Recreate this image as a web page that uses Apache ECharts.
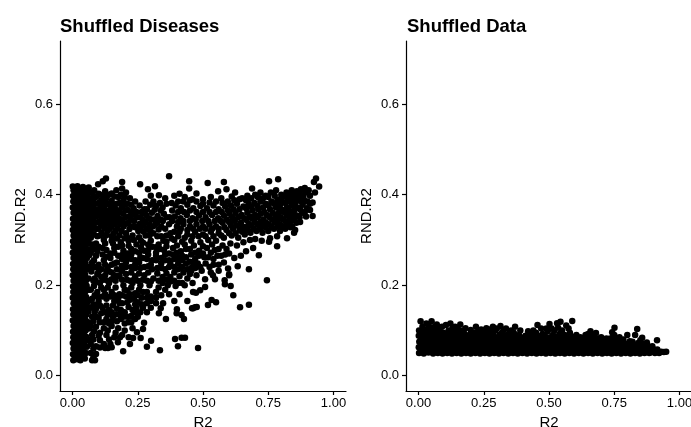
<!DOCTYPE html>
<html><head><meta charset="utf-8">
<style>html,body{margin:0;padding:0;background:#fff}#c{width:691px;height:427px}</style>
<script src="https://cdn.jsdelivr.net/npm/echarts@6/dist/echarts.min.js"></script>
</head><body><div id="c"></div>
<script>
const panelTitles = ["Shuffled Diseases", "Shuffled Data"];
const xTicks = [0, 0.25, 0.5, 0.75, 1];
const yTicks = [0, 0.2, 0.4, 0.6];

const diseaseColumn = [
[.003,.034],[.018,.036],[.03,.034],[.047,.038],[.002,.047],[.016,.05],[.033,.046],[.051,.05],[.004,.06],[.02,.058],[.036,.062],[.055,.064],
[.001,.072],[.015,.075],[.03,.071],[.048,.076],[.003,.085],[.019,.083],[.035,.088],[.052,.086],[.002,.097],[.017,.1],[.032,.096],[.05,.1],
[.004,.11],[.021,.108],[.037,.112],[.054,.11],[.001,.122],[.016,.125],[.031,.121],[.049,.124],[.003,.135],[.02,.133],[.036,.137],[.053,.135],
[.002,.147],[.018,.15],[.034,.146],[.05,.149],[.004,.16],[.016,.158],[.032,.163],[.055,.16],[.001,.172],[.019,.175],[.037,.171],[.052,.174],
[.003,.185],[.017,.183],[.033,.188],[.049,.186],[.002,.197],[.021,.2],[.036,.196],[.054,.199],[.004,.21],[.018,.208],[.031,.212],[.051,.21],
[.001,.222],[.016,.225],[.035,.221],[.048,.224],[.003,.235],[.02,.233],[.034,.237],[.053,.235],[.002,.247],[.017,.25],[.032,.246],[.05,.249],
[.004,.26],[.019,.258],[.037,.262],[.055,.26],[.001,.272],[.015,.275],[.033,.271],[.052,.274],[.003,.285],[.021,.283],[.036,.288],[.049,.286],
[.002,.297],[.018,.3],[.031,.296],[.054,.299],[.004,.31],[.016,.308],[.035,.312],[.051,.31],[.001,.322],[.02,.325],[.034,.321],[.048,.324],
[.003,.335],[.017,.333],[.032,.337],[.053,.335],[.002,.347],[.019,.35],[.037,.346],[.05,.349],[.004,.36],[.015,.358],[.033,.362],[.052,.36],
[.001,.372],[.021,.375],[.036,.371],[.055,.374],[.003,.385],[.018,.383],[.031,.387],[.049,.385],[.002,.397],[.016,.4],[.035,.396],[.054,.399],
[.004,.41],[.02,.408],[.034,.412],[.05,.41],[.001,.418],[.019,.419],[.04,.417],[.062,.416],
[.01,.041],[.026,.043],[.04,.055],[.011,.066],[.027,.065],[.044,.07],[.009,.079],[.025,.081],[.042,.08],[.06,.08],[.01,.091],[.027,.09],[.043,.093],[.011,.104],[.028,.103],[.045,.105],[.063,.104],[.009,.116],[.026,.115],[.043,.118],[.06,.118],[.012,.128],[.028,.129],[.044,.13],[.01,.141],[.027,.142],[.043,.143],[.061,.142],[.011,.153],[.025,.155],[.042,.155],[.009,.166],[.027,.167],[.044,.167],[.062,.166],[.011,.178],[.028,.18],[.043,.18],[.01,.191],[.026,.192],[.042,.192],[.063,.19],[.012,.203],[.028,.204],[.044,.205],[.01,.216],[.026,.217],[.042,.217],[.062,.215],[.011,.228],[.027,.229],[.043,.23],[.009,.241],[.026,.242],[.044,.242],[.063,.24],[.011,.254],[.027,.254],[.043,.255],[.01,.266],[.026,.267],[.045,.267],[.064,.266],[.012,.279],[.028,.279],[.043,.28],[.062,.279],[.01,.291],[.027,.292],[.043,.293],[.063,.292],[.011,.303],[.026,.304],[.044,.305],[.062,.304],[.009,.316],[.027,.316],[.043,.317],[.062,.317],[.011,.328],[.026,.329],[.042,.33],[.063,.329],[.01,.341],[.028,.341],[.045,.342],[.062,.342],[.012,.353],[.027,.354],[.043,.355],[.063,.354],[.01,.366],[.026,.366],[.044,.367],[.062,.367],[.011,.379],[.028,.379],[.042,.38],[.063,.38],[.009,.391],[.026,.392],[.044,.392],[.062,.392],[.011,.404],[.027,.404],[.043,.404],[.063,.405]
];
const diseaseBand = [
[.07,.405],[.083,.41],[.098,.423],[.116,.43],[.128,.436],[.105,.4],[.125,.408],[.15,.403],[.168,.41],[.19,.428],[.19,.414],[.205,.405],[.175,.395],[.22,.392],[.24,.385],[.259,.423],[.289,.412],[.316,.419],[.3,.398],[.331,.399],[.28,.385],[.37,.441],
[.355,.392],[.39,.398],[.41,.402],[.447,.43],[.447,.414],[.43,.395],[.475,.403],[.46,.39],[.5,.39],[.518,.426],[.53,.395],[.558,.408],[.58,.428],[.59,.412],[.57,.392],[.61,.396],[.623,.405],[.65,.392],[.67,.398],[.688,.414],[.7,.4],[.72,.405],[.74,.398],[.753,.43],[.76,.405],[.788,.434],[.78,.41],[.8,.4],[.82,.405],[.84,.41],[.86,.408],[.875,.412],[.89,.415],[.905,.41],[.933,.436],[.925,.428],[.945,.418],[.929,.405],[.91,.398],[.92,.383],[.91,.366],[.92,.353],
[.07,.39],[.09,.395],[.11,.388],[.13,.392],[.15,.386],[.17,.38],[.195,.388],[.21,.38],[.07,.376],[.088,.38],[.108,.374],[.128,.378],[.148,.372],[.168,.367],[.19,.372],[.212,.366],[.234,.37],[.257,.376],[.275,.368],[.298,.378],[.32,.375],[.345,.372],
[.07,.362],[.09,.366],[.11,.36],[.13,.364],[.15,.358],[.172,.353],[.194,.358],[.216,.352],[.238,.356],[.26,.35],[.282,.355],[.304,.36],[.326,.353],[.35,.358],[.372,.35],[.395,.376],[.415,.37],[.44,.378],[.463,.37],[.49,.375],[.515,.37],[.54,.376],[.56,.368],[.585,.374],[.607,.376],[.63,.38],[.655,.374],[.675,.38],[.697,.382],[.72,.385],[.74,.38],[.762,.385],[.785,.388],[.805,.384],[.825,.39],[.845,.392],[.865,.39],[.885,.395],[.9,.385],
[.07,.348],[.09,.352],[.11,.346],[.13,.35],[.15,.344],[.17,.34],[.192,.344],[.214,.338],[.236,.342],[.258,.336],[.28,.34],[.302,.345],[.324,.338],[.346,.342],[.37,.335],[.392,.352],[.414,.348],[.438,.355],[.46,.348],[.485,.354],[.51,.35],[.535,.355],[.558,.348],[.58,.354],[.602,.358],[.625,.36],[.648,.355],[.67,.36],[.69,.365],[.712,.368],[.735,.362],[.757,.368],[.78,.372],[.8,.368],[.822,.372],[.842,.376],[.862,.372],[.882,.378],[.898,.37],
[.07,.334],[.09,.338],[.11,.332],[.13,.336],[.15,.33],[.172,.326],[.195,.33],[.218,.324],[.24,.328],[.262,.322],[.285,.326],[.308,.33],[.33,.323],[.355,.325],[.4,.33],[.425,.335],[.45,.33],[.475,.335],[.5,.33],[.525,.335],[.55,.33],[.575,.338],[.6,.34],[.622,.342],[.645,.338],[.667,.344],[.688,.348],[.71,.35],[.732,.345],[.755,.35],[.778,.355],[.798,.35],[.82,.356],[.84,.358],[.86,.354],[.88,.36],[.895,.352],
[.07,.32],[.09,.324],[.112,.316],[.135,.32],[.158,.315],[.18,.31],[.205,.315],[.23,.31],[.255,.306],[.28,.31],[.31,.315],[.34,.308],[.375,.315],[.41,.318],[.44,.312],[.47,.318],[.5,.312],[.53,.318],[.56,.315],[.59,.322],[.615,.325],[.64,.322],[.662,.328],[.685,.332],[.708,.335],[.73,.33],[.752,.335],[.775,.34],[.795,.335],[.818,.34],[.838,.342],[.858,.338],[.872,.34],[.853,.322],[.849,.316],
[.07,.305],[.095,.308],[.12,.3],[.15,.298],[.185,.295],[.215,.298],[.245,.29],[.27,.294],[.3,.298],[.33,.29],[.36,.296],[.39,.3],[.42,.296],[.455,.298],[.49,.295],[.52,.3],[.55,.298],[.58,.305],[.61,.31],[.635,.305],[.66,.312],[.682,.316],[.705,.32],[.728,.316],[.75,.32],[.772,.325],[.795,.32],[.815,.325],[.835,.328],[.822,.304],[.784,.308],[.784,.286],[.757,.304],[.753,.296],
[.08,.398],[.1,.402],[.12,.398],[.14,.4],[.16,.396],[.185,.4],[.2,.395],[.08,.384],[.1,.382],[.12,.384],[.14,.38],[.16,.378],[.18,.382],[.2,.378],[.225,.378],[.245,.362],[.265,.362],[.285,.368],[.31,.385],[.335,.382],[.08,.37],[.1,.368],[.12,.37],[.14,.365],[.16,.362],[.18,.362],[.203,.365],[.225,.36],[.248,.35],[.27,.344],[.293,.348],[.315,.367],[.338,.365],[.36,.38],[.38,.382],[.405,.385],[.425,.385],[.45,.388],[.475,.385],[.5,.38],[.525,.383],[.55,.385],[.575,.382],[.595,.385],[.62,.388],[.64,.39],[.665,.388],[.685,.392],[.71,.395],[.73,.392],[.75,.395],[.775,.398],[.795,.39],[.815,.396],[.835,.4],[.855,.4],[.875,.4],[.895,.405],[.91,.38],
[.08,.356],[.1,.356],[.12,.354],[.14,.353],[.16,.35],[.18,.347],[.203,.35],[.225,.345],[.247,.33],[.27,.332],[.295,.335],[.315,.345],[.337,.345],[.36,.35],[.382,.365],[.405,.362],[.427,.362],[.45,.365],[.475,.362],[.5,.362],[.525,.362],[.55,.362],[.572,.362],[.596,.365],[.617,.368],[.64,.368],[.665,.37],[.685,.373],[.708,.375],[.73,.372],[.75,.376],[.772,.38],[.795,.378],[.815,.382],[.835,.384],[.853,.382],[.875,.385],[.89,.386],
[.08,.342],[.1,.34],[.12,.342],[.14,.34],[.16,.336],[.183,.335],[.205,.336],[.228,.33],[.252,.32],[.273,.318],[.297,.32],[.318,.335],[.34,.33],[.382,.342],[.405,.34],[.425,.342],[.45,.342],[.472,.345],[.497,.342],[.52,.342],[.545,.342],[.568,.342],[.59,.345],[.612,.35],[.635,.35],[.658,.348],[.68,.352],[.7,.355],[.722,.358],[.745,.355],[.767,.36],[.79,.36],[.81,.362],[.83,.365],[.85,.365],[.872,.368],[.89,.362],
[.08,.328],[.1,.325],[.123,.326],[.143,.326],[.165,.32],[.188,.32],[.21,.305],[.235,.3],[.295,.31],[.325,.308],[.36,.31],[.39,.318],[.415,.325],[.44,.322],[.462,.325],[.488,.325],[.51,.325],[.535,.325],[.56,.325],[.582,.328],[.607,.332],[.63,.332],[.652,.33],[.675,.336],[.697,.34],[.72,.34],[.742,.338],[.765,.345],[.787,.345],[.808,.345],[.83,.35],[.85,.348],[.87,.35],
[.082,.312],[.105,.31],[.128,.31],[.15,.308],[.17,.303],[.2,.304],[.262,.298],[.348,.298],[.38,.303],[.405,.308],[.43,.305],[.46,.308],[.483,.308],[.51,.308],[.54,.308],[.57,.31],[.6,.315],[.625,.315],[.65,.318],[.672,.322],[.695,.325],[.718,.325],[.74,.328],[.762,.33],[.785,.33],[.805,.33],[.825,.335],[.842,.33]
];
const diseaseLower = [
[.075,.29],[.1,.285],[.13,.278],[.16,.282],[.195,.276],[.225,.28],[.255,.272],[.29,.278],[.32,.272],[.35,.278],[.385,.282],[.415,.275],[.45,.28],[.485,.276],[.515,.282],[.545,.278],[.575,.288],[.605,.292],[.63,.288],[.655,.295],[.68,.3],[.7,.302],[.725,.298],[.714,.266],[.692,.282],[.665,.275],[.676,.235],[.633,.242],[.645,.265],[.6,.224],[.596,.237],[.745,.211],
[.07,.272],[.09,.265],[.115,.268],[.145,.26],[.175,.265],[.21,.26],[.24,.255],[.27,.26],[.305,.255],[.34,.26],[.37,.255],[.405,.26],[.435,.262],[.47,.258],[.505,.262],[.54,.258],[.57,.265],[.6,.27],[.62,.26],
[.075,.25],[.1,.245],[.135,.24],[.16,.248],[.19,.243],[.225,.24],[.26,.238],[.29,.242],[.325,.238],[.355,.235],[.39,.24],[.42,.24],[.455,.238],[.49,.24],[.525,.24],[.56,.245],[.58,.25],
[.072,.23],[.095,.225],[.125,.222],[.15,.228],[.18,.222],[.205,.225],[.24,.22],[.275,.222],[.31,.215],[.345,.218],[.375,.218],[.41,.22],[.44,.215],[.475,.222],[.508,.213],[.538,.222],[.546,.213],[.583,.211],[.584,.202],[.606,.198],[.616,.178],[.6,.222],[.676,.157],[.642,.151],
[.08,.21],[.105,.205],[.14,.205],[.165,.21],[.195,.2],[.23,.205],[.26,.2],[.295,.2],[.33,.195],[.365,.2],[.395,.198],[.43,.2],[.46,.205],[.489,.189],[.473,.183],[.462,.185],[.508,.196],[.533,.167],[.55,.162],[.519,.156],[.469,.151],[.458,.149],[.476,.152],[.481,.061],
[.07,.19],[.095,.185],[.12,.19],[.15,.185],[.18,.18],[.21,.188],[.24,.182],[.27,.185],[.3,.175],[.34,.178],[.37,.18],[.41,.18],[.44,.165],
[.075,.17],[.1,.165],[.13,.17],[.16,.165],[.19,.16],[.22,.168],[.25,.162],[.285,.16],[.32,.16],[.347,.16],[.338,.149],[.39,.165],[.4,.147],[.399,.138],[.418,.134],[.427,.125],[.462,.149],[.331,.138],[.358,.125],
[.07,.15],[.09,.148],[.115,.15],[.14,.145],[.17,.148],[.2,.14],[.23,.145],[.26,.14],[.285,.14],
[.075,.13],[.1,.128],[.13,.125],[.155,.13],[.185,.125],[.215,.118],[.24,.125],[.274,.117],[.27,.103],
[.07,.11],[.09,.108],[.12,.105],[.15,.11],[.175,.105],[.2,.1],[.247,.096],[.23,.105],
[.075,.09],[.1,.088],[.13,.09],[.16,.085],[.182,.085],[.174,.074],[.215,.085],[.232,.083],[.261,.083],[.22,.07],[.301,.077],[.285,.064],
[.07,.07],[.09,.065],[.12,.07],[.145,.07],[.136,.061],[.125,.061],[.194,.054],[.335,.056],[.393,.081],[.404,.065],[.418,.084],[.431,.084],
[.07,.05],[.09,.048],[.075,.034],[.086,.034],
[.082,.28],[.115,.282],[.145,.27],[.175,.285],[.21,.27],[.24,.275],[.275,.276],[.305,.285],[.335,.28],[.37,.27],[.4,.272],[.435,.28],[.47,.272],[.5,.27],[.53,.272],[.56,.28],[.59,.28],[.082,.255],[.12,.255],[.15,.245],[.19,.258],[.225,.258],[.255,.25],[.285,.258],[.32,.255],[.355,.255],[.39,.258],[.42,.255],[.45,.252],[.48,.248],[.51,.248],[.54,.245],[.075,.238],[.11,.235],[.14,.23],[.17,.235],[.205,.24],[.24,.238],[.275,.24],[.305,.235],[.34,.238],[.37,.24],[.405,.235],[.44,.235],[.47,.238],[.085,.215],[.11,.218],[.135,.21],[.16,.222],[.19,.212],[.22,.21],[.25,.21],[.285,.21],[.33,.21],[.36,.212],[.39,.21],[.42,.205],[.45,.225],
[.082,.198],[.11,.195],[.135,.195],[.165,.195],[.2,.19],[.225,.195],[.255,.19],[.285,.185],[.32,.185],[.355,.19],[.085,.178],[.115,.175],[.145,.175],[.175,.17],[.205,.175],[.235,.17],[.265,.172],[.3,.165],[.08,.158],[.105,.155],[.13,.155],[.155,.155],[.185,.145],[.215,.152],[.245,.15],[.27,.15],[.3,.15],[.085,.14],[.11,.138],[.135,.135],[.165,.135],[.195,.13],[.225,.132],[.25,.13],[.08,.12],[.105,.118],[.14,.115],[.17,.12],[.2,.115],[.225,.118],[.082,.098],[.105,.095],[.135,.1],[.165,.095],[.19,.09],[.08,.08],[.105,.078],[.14,.08],[.15,.063],[.08,.06],[.105,.062],[.08,.04],
[.09,.292],[.125,.292],[.155,.292],[.19,.288],[.215,.287],[.262,.284],[.29,.29],[.32,.284],[.36,.286],[.4,.288],[.43,.29],[.465,.288],[.5,.286],[.535,.29],[.095,.275],[.13,.263],[.16,.272],[.19,.267],[.225,.268],[.26,.262],[.29,.268],[.32,.265],[.355,.268],[.385,.268],[.42,.265],[.455,.268],[.485,.265],[.52,.262],[.555,.265],[.585,.268],[.09,.24],[.125,.245],[.17,.25],[.205,.25],[.24,.246],[.3,.245],[.34,.248],[.375,.248],[.405,.248],[.435,.248],[.465,.248],[.495,.232],[.53,.228],[.56,.232],[.1,.23],[.13,.232],[.19,.232],[.225,.228],[.255,.226],[.29,.228],[.325,.226],[.36,.226],[.39,.228],[.425,.228],[.455,.232],[.09,.208],[.12,.212],[.15,.213],[.175,.22],[.208,.212],[.235,.212],[.27,.212],[.3,.208],[.345,.205],[.375,.208],[.405,.205],[.095,.175],[.125,.18],[.16,.178],[.19,.178],[.22,.18],[.25,.178],[.285,.172],[.32,.172],[.095,.155],[.125,.14],[.15,.14],[.18,.16],[.21,.162],[.24,.158],[.265,.158],[.09,.13],[.12,.118],[.15,.12],[.18,.135],[.21,.13],[.24,.14]
];

const dataUpper = [
[.008,.12],[.03,.115],[.05,.12],[.07,.113],[.09,.108],[.105,.112],[.122,.115],[.14,.108],[.16,.113],[.18,.105],[.2,.101],[.22,.108],[.24,.102],[.26,.105],[.285,.108],[.314,.11],[.335,.104],[.37,.108],[.39,.1],[.42,.098],[.456,.112],[.47,.104],[.502,.114],[.531,.116],[.544,.119],[.566,.111],[.589,.121],[.52,.1],[.55,.1],[.58,.095],[.62,.085],[.64,.09],[.659,.098],[.68,.094],[.7,.085],[.72,.082],[.742,.096],[.751,.106],[.77,.085],[.8,.09],[.82,.075],[.838,.103],[.857,.084],[.875,.073],[.914,.078]
];
const dataBand = [
[.002,.1],[.018,.103],[.036,.1],[.055,.104],[.075,.098],[.095,.095],[.115,.1],[.135,.096],[.155,.099],[.175,.093],[.195,.09],[.215,.095],[.235,.092],[.255,.094],[.275,.097],[.295,.1],[.32,.095],[.345,.092],[.365,.095],[.385,.09],[.41,.088],[.43,.09],[.45,.095],[.475,.092],[.495,.098],[.515,.09],[.54,.092],[.56,.09],[.6,.085],[.655,.085],[.69,.082],[.735,.082],[.785,.08],
[.001,.088],[.016,.09],[.032,.087],[.05,.09],[.068,.086],[.086,.088],[.104,.085],[.122,.088],[.14,.085],[.158,.087],[.176,.083],[.194,.081],[.212,.084],[.23,.082],[.248,.084],[.266,.085],[.284,.087],[.302,.085],[.32,.083],[.338,.082],[.356,.084],[.374,.08],[.392,.08],[.41,.078],[.428,.08],[.446,.082],[.464,.08],[.482,.082],[.5,.08],[.518,.08],[.536,.08],[.554,.08],[.572,.078],[.59,.08],[.608,.076],[.626,.076],[.644,.077],[.662,.076],[.68,.078],[.698,.075],[.716,.073],[.734,.075],[.752,.075],[.77,.072],[.788,.072],[.806,.07],[.824,.068],[.842,.072],[.86,.07],[.878,.066],[.896,.065],
[.003,.075],[.019,.077],[.035,.074],[.052,.077],[.07,.075],[.088,.077],[.106,.074],[.124,.076],[.142,.073],[.16,.075],[.178,.072],[.196,.073],[.214,.072],[.232,.074],[.25,.073],[.268,.074],[.286,.072],[.304,.074],[.322,.073],[.34,.072],[.358,.074],[.376,.071],[.394,.07],[.412,.069],[.43,.071],[.448,.07],[.466,.07],[.484,.071],[.502,.069],[.52,.07],[.538,.069],[.556,.07],[.574,.068],[.592,.069],[.61,.067],[.628,.067],[.646,.068],[.664,.066],[.682,.067],[.7,.065],[.718,.065],[.736,.066],[.754,.064],[.772,.065],[.79,.063],[.808,.063],[.826,.062],[.844,.063],[.862,.062],[.88,.06],[.898,.059],[.915,.058],
[.001,.063],[.017,.065],[.034,.062],[.05,.064],[.067,.062],[.085,.063],[.103,.062],[.121,.064],[.139,.062],[.157,.063],[.175,.062],[.193,.061],[.211,.063],[.229,.062],[.247,.063],[.265,.062],[.283,.063],[.301,.062],[.319,.061],[.337,.063],[.355,.061],[.373,.062],[.391,.06],[.409,.061],[.427,.06],[.445,.061],[.463,.06],[.481,.061],[.499,.06],[.517,.06],[.535,.06],[.553,.06],[.571,.059],[.589,.06],[.607,.058],[.625,.059],[.643,.058],[.661,.058],[.679,.057],[.697,.057],[.715,.057],[.733,.056],[.751,.057],[.769,.056],[.787,.055],[.805,.056],[.823,.055],[.841,.055],[.859,.054],[.877,.054],[.895,.053],[.913,.054],[.93,.053],[.949,.053],
[.002,.05],[.02,.049],[.038,.051],[.056,.049],[.074,.05],[.092,.049],[.11,.05],[.128,.049],[.146,.05],[.164,.049],[.182,.05],[.2,.049],[.218,.05],[.236,.049],[.254,.05],[.272,.049],[.29,.05],[.308,.049],[.326,.05],[.344,.049],[.362,.05],[.38,.049],[.398,.05],[.416,.049],[.434,.05],[.452,.049],[.47,.05],[.488,.049],[.506,.05],[.524,.049],[.542,.05],[.56,.049],[.578,.05],[.596,.049],[.614,.05],[.632,.049],[.65,.05],[.668,.049],[.686,.05],[.704,.049],[.722,.05],[.74,.049],[.758,.05],[.776,.049],[.794,.05],[.812,.049],[.83,.05],[.848,.049],[.866,.05],[.884,.05],
[.01,.056],[.028,.056],[.045,.057],[.062,.056],[.08,.056],[.098,.056],[.115,.056],[.133,.056],[.15,.056],[.168,.056],[.186,.056],[.204,.056],[.222,.056],[.24,.056],[.258,.056],[.276,.056],[.294,.056],[.312,.056],[.33,.056],[.348,.056],[.366,.056],[.384,.056],[.402,.056],[.42,.056],[.438,.056],[.456,.055],[.474,.056],[.492,.055],[.51,.055],[.528,.055],[.546,.055],[.564,.055],[.582,.055],[.6,.055],[.618,.054],[.636,.054],[.654,.054],[.672,.053],[.69,.053],[.708,.053],[.726,.053],[.744,.053],[.762,.053],[.78,.052],[.798,.052],[.816,.052],[.834,.052],[.852,.052],[.87,.052],[.888,.051],[.906,.05],[.922,.05],[.94,.052],
[.01,.069],[.027,.07],[.044,.069],[.06,.07],[.078,.069],[.096,.07],[.114,.069],[.131,.07],[.15,.068],[.168,.069],[.186,.068],[.205,.068],[.223,.068],[.241,.068],[.259,.068],[.277,.068],[.295,.068],[.313,.068],[.331,.068],[.349,.067],[.367,.067],[.385,.066],[.403,.066],[.421,.066],[.439,.066],[.457,.066],[.475,.066],[.493,.066],[.511,.065],[.529,.065],[.547,.065],[.565,.064],[.583,.064],[.601,.063],[.619,.063],[.637,.063],[.655,.063],[.673,.062],[.691,.061],[.709,.061],[.727,.061],[.745,.06],[.763,.06],[.781,.06],[.799,.059],[.817,.059],[.835,.059],[.853,.058],[.871,.057],[.889,.057],
[.01,.082],[.026,.083],[.043,.082],[.06,.083],[.077,.081],[.095,.082],[.113,.08],[.131,.082],[.149,.079],[.167,.08],[.185,.078],[.203,.078],[.221,.079],[.239,.078],[.257,.079],[.275,.08],[.293,.08],[.311,.079],[.329,.078],[.347,.078],[.365,.078],[.383,.076],[.401,.075],[.419,.075],[.437,.076],[.455,.076],[.473,.076],[.491,.076],[.509,.075],[.527,.075],[.545,.075],[.563,.075],[.581,.074],[.599,.073],[.617,.072],[.635,.072],[.653,.072],[.671,.071],[.689,.071],[.707,.07],[.725,.069],[.743,.07],[.761,.069],[.779,.068],[.797,.067],[.815,.066],[.833,.066],[.851,.066],[.869,.064],
[.01,.095],[.027,.096],[.045,.095],[.064,.094],[.083,.093],[.102,.092],[.125,.094],[.145,.091],[.165,.092],[.186,.088],[.205,.088],[.225,.088],[.245,.089],[.265,.09],[.285,.092],[.31,.09],[.333,.088],[.355,.088],[.375,.086],[.4,.084],[.42,.084],[.44,.086],[.463,.087],[.485,.087],[.505,.085],[.528,.086],[.55,.085],[.57,.084],[.59,.086],[.612,.082],[.63,.082],[.668,.083],[.71,.078],[.76,.078],[.775,.078],[.81,.076],[.85,.078],
[.015,.108],[.04,.109],[.062,.108],[.08,.104],[.13,.104],[.15,.105],[.17,.1],[.23,.098],[.25,.1],[.27,.102],[.3,.104],[.325,.1],[.355,.1],[.44,.1],[.49,.104],[.51,.104],[.535,.106],[.575,.104],[.605,.09],[.65,.092],[.67,.09],[.75,.09],[.745,.085],[.83,.09]
];

const diseasePoints = diseaseColumn.concat(diseaseBand, diseaseLower);
const dataPoints = dataUpper.concat(dataBand);

const font = '"Liberation Sans", Helvetica, Arial, sans-serif';
function xAxis(i){return {
  gridIndex:i,type:'value',min:-0.048,max:1.048,name:'R2',nameLocation:'middle',nameGap:23,
  nameTextStyle:{fontFamily:font,fontSize:15,color:'#000'},
  axisLine:{show:true,onZero:false,lineStyle:{color:'#000',width:1.2}},
  axisTick:{show:true,length:4,inside:false,customValues:xTicks,lineStyle:{color:'#000',width:1.2}},
  axisLabel:{show:true,margin:6,fontFamily:font,fontSize:13,color:'#000',customValues:xTicks,formatter:v=>v.toFixed(2),hideOverlap:false,showMinLabel:true,showMaxLabel:true},
  splitLine:{show:false}
};}
function yAxis(i){return {
  gridIndex:i,type:'value',min:-0.034,max:0.74,name:'RND.R2',nameLocation:'middle',nameGap:32,
  nameTextStyle:{fontFamily:font,fontSize:15,color:'#000'},
  axisLine:{show:true,onZero:false,lineStyle:{color:'#000',width:1.2}},
  axisTick:{show:true,length:4,inside:false,customValues:yTicks,lineStyle:{color:'#000',width:1.2}},
  axisLabel:{show:true,margin:7,fontFamily:font,fontSize:13,color:'#000',customValues:yTicks,formatter:v=>v.toFixed(1)},
  splitLine:{show:false}
};}
function scatter(i,d){return {type:'scatter',xAxisIndex:i,yAxisIndex:i,data:d,symbol:'circle',symbolSize:6.5,itemStyle:{color:'#000',opacity:1},silent:true,animation:false,large:false,clip:false};}
const chart = echarts.init(document.getElementById('c'),null,{renderer:'canvas'});
chart.setOption({
  animation:false,backgroundColor:'#fff',
  title:[
    {text:panelTitles[0],left:60,top:17,padding:0,textStyle:{fontFamily:font,fontSize:18.5,fontWeight:'bold',color:'#000'}},
    {text:panelTitles[1],left:407,top:17,padding:0,textStyle:{fontFamily:font,fontSize:18.5,fontWeight:'bold',color:'#000'}}
  ],
  grid:[
    {left:60,top:41,width:286,height:350,containLabel:false,outerBoundsMode:'none'},
    {left:406,top:41,width:286,height:350,containLabel:false,outerBoundsMode:'none'}
  ],
  xAxis:[xAxis(0),xAxis(1)],
  yAxis:[yAxis(0),yAxis(1)],
  series:[scatter(0,diseasePoints),scatter(1,dataPoints)]
});
</script></body></html>
